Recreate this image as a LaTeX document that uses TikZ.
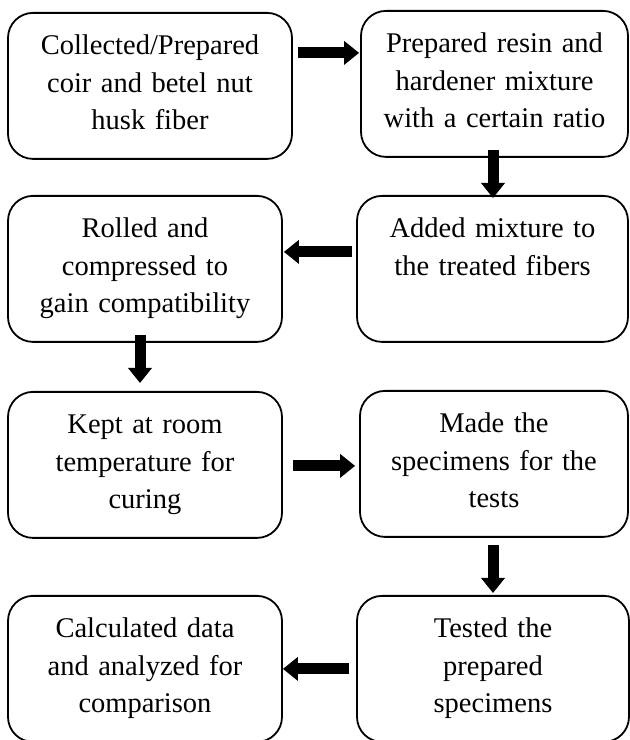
\documentclass[tikz,border=0pt]{standalone}
\usepackage{fontspec}
\setmainfont{Liberation Serif}
\usepackage{tikz}
\usetikzlibrary{arrows.meta}

\newcommand{\boxfont}{\fontsize{28.5}{37.5}\selectfont}
\tikzset{
  stepbox/.style={draw, line width=1.8pt, rounded corners=25pt, inner sep=0pt,
    anchor=north, align=center, text height=42pt, text depth=104pt, font=\boxfont},
  flow/.style={line width=11pt, -{Triangle[length=15pt,width=23pt]}}
}

\begin{document}
\begin{tikzpicture}[x=1pt,y=1pt]
  \useasboundingbox (0,0) rectangle (630,740);
  % left column
  \node[stepbox, text width=284pt] (b1) at (150,728) {Collected/Prepared\\coir and betel nut\\husk fiber};
  \node[stepbox, text width=274pt] (b3) at (145,545) {Rolled and\\compressed to\\gain compatibility};
  \node[stepbox, text width=274pt] (b5) at (145,349) {Kept at room\\temperature for\\curing};
  \node[stepbox, text width=274pt] (b7) at (145,145) {Calculated data\\and analyzed for\\comparison};
  % right column
  \node[stepbox, text width=267pt] (b2) at (494.5,730) {Prepared resin and\\hardener mixture\\with a certain ratio};
  \node[stepbox, text width=271pt] (b4) at (492.5,545) {Added mixture to\\the treated fibers};
  \node[stepbox, text width=268pt] (b6) at (494,350) {Made the\\specimens for the\\tests};
  \node[stepbox, text width=272pt] (b8) at (493,145) {Tested the\\prepared\\specimens};
  % block arrows
  \draw[flow] ([shift={(5pt,33pt)}]b1.east) -- ([shift={(-1pt,31pt)}]b2.west);
  \draw[flow] ([shift={(-1.5pt,8pt)}]b2.south) -- ([shift={(0.5pt,-3pt)}]b4.north);
  \draw[flow] ([shift={(-4pt,17pt)}]b4.west) -- ([shift={(1pt,17pt)}]b3.east);
  \draw[flow] ([shift={(-5pt,8pt)}]b3.south) -- ([shift={(-5pt,8pt)}]b5.north);
  \draw[flow] ([shift={(10pt,-1pt)}]b5.east) -- ([shift={(-4pt,-2pt)}]b6.west);
  \draw[flow] ([shift={(-1pt,-7pt)}]b6.south) -- ([yshift=2pt]b8.north);
  \draw[flow] ([xshift=-7pt]b8.west) -- (b7.east);
\end{tikzpicture}
\end{document}
